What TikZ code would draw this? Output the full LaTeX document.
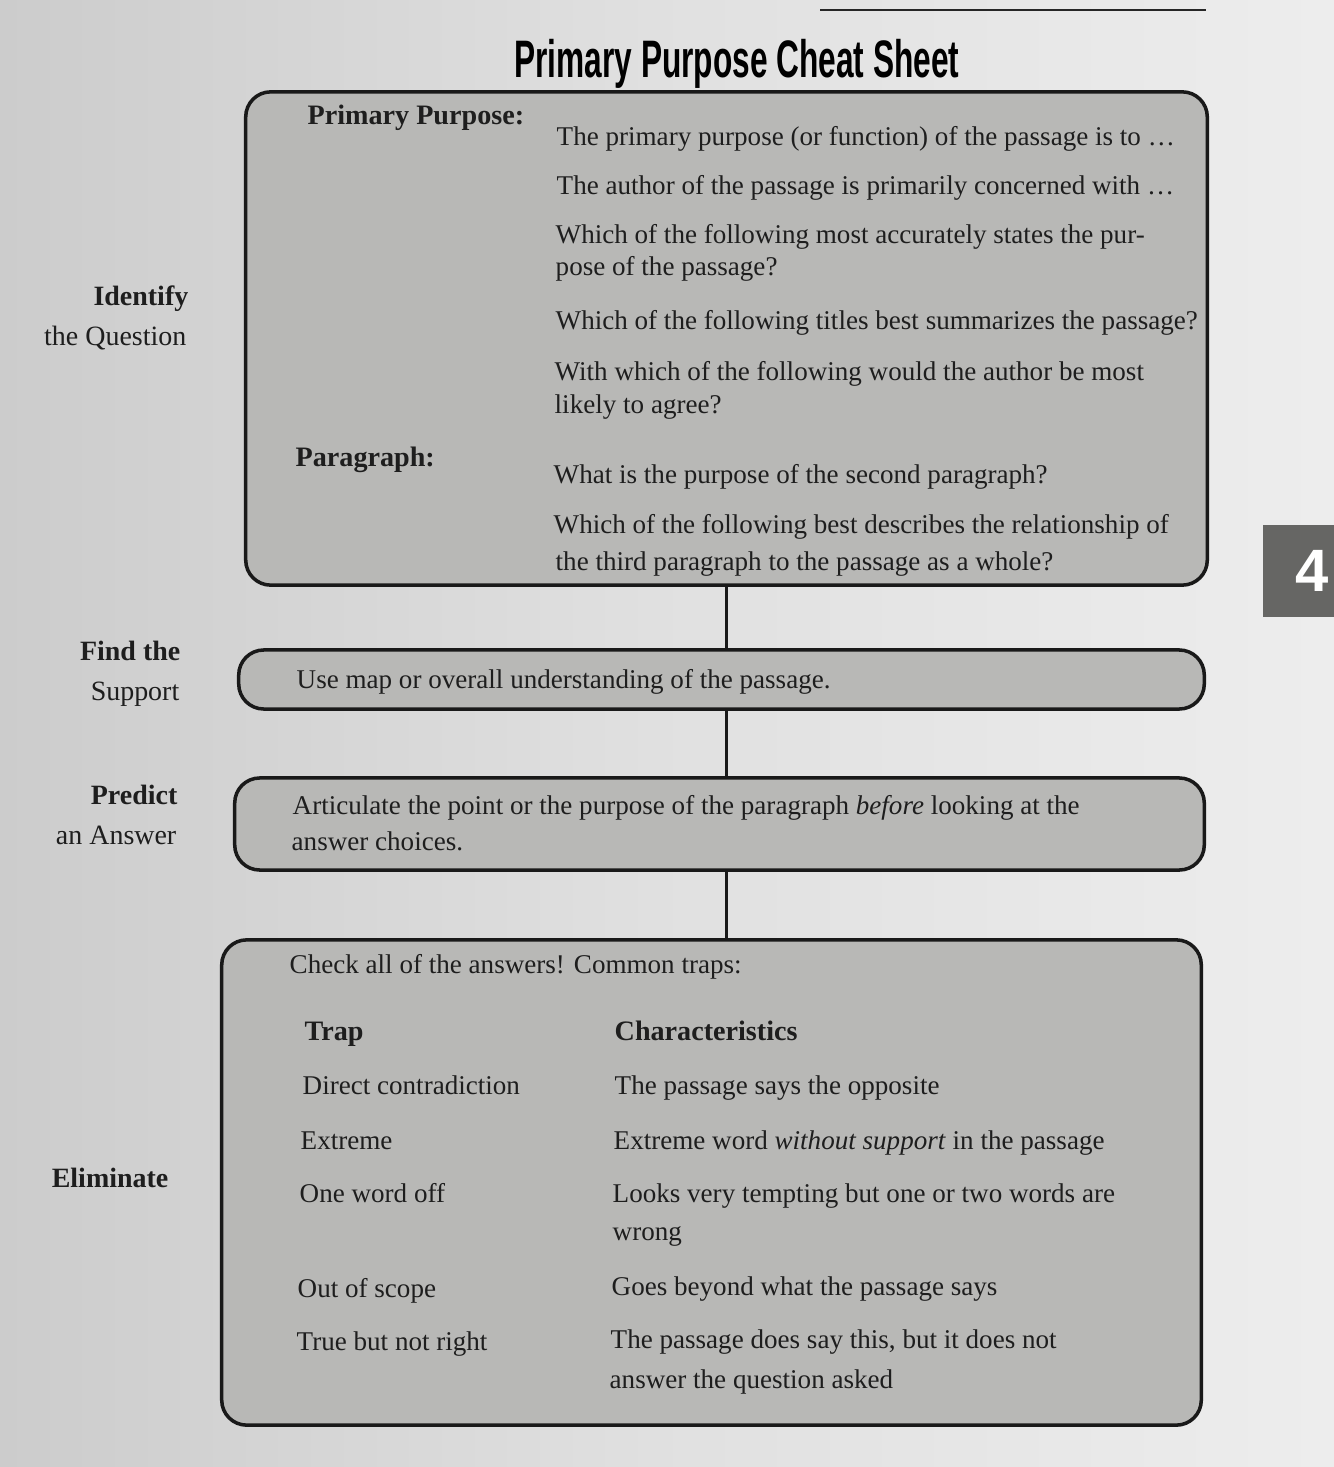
\documentclass[tikz,border=0pt]{standalone}
\usepackage{fontspec}
\setmainfont{Liberation Serif}
\newfontfamily\titlefont[FakeStretch=0.6]{Liberation Sans}
\newfontfamily\tabfont{Liberation Sans}
\definecolor{boxgray}{RGB}{184,184,182}
\definecolor{tabgray}{RGB}{102,102,100}
\definecolor{inkgray}{RGB}{30,30,30}
\begin{document}
\begin{tikzpicture}[
			x=0.01cm, y=-0.01cm,
			panel/.style={draw=black!90, line width=1pt, fill=boxgray, rounded corners=0.25cm, inner sep=0pt},
			txt/.style={anchor=base west, inner sep=0pt, text=inkgray, font=\fontsize{7.7}{9.3}\selectfont},
			hd/.style={txt, font=\fontsize{8}{9.6}\selectfont\bfseries},
			side/.style={anchor=base east, inner sep=0pt, text=inkgray, font=\fontsize{7.95}{9.5}\selectfont},
			sidehd/.style={side, font=\fontsize{7.95}{9.5}\selectfont\bfseries},
			link/.style={line width=1pt, draw=black!90}
			]
			\useasboundingbox (0,0) rectangle (1334,1467);
			\shade[left color=black!20, right color=black!7, middle color=black!12] (0,0) rectangle (1334,1467);
			\draw[line width=0.6pt, black!85] (820,10) -- (1206,10);
			
			\node[anchor=base, inner sep=0pt, text=black, font=\titlefont\bfseries\fontsize{15}{18}\selectfont] (title) at (737,78) {Primary Purpose Cheat Sheet};
			\node[fill=tabgray, minimum width=0.98cm, minimum height=0.92cm, inner sep=0pt, text=white, font=\tabfont\bfseries\fontsize{17}{20}\selectfont] (tab) at (1312,571) {4};
			
			\node[panel, minimum width=9.61cm, minimum height=4.93cm] (pp) at (726.5,338.5) {};
			\node[panel, minimum width=9.65cm, minimum height=0.59cm] (fs) at (721.5,679.5) {};
			\node[panel, minimum width=9.69cm, minimum height=0.92cm] (pa) at (719.5,824) {};
			\node[panel, minimum width=9.79cm, minimum height=4.85cm] (el) at (711.5,1182.5) {};
			
			\draw[link] (pp.south) -- (pp.south |- fs.north);
			\draw[link] (fs.south -| pp.south) -- (pa.north -| pp.south);
			\draw[link] (pa.south -| pp.south) -- (el.north -| pp.south);
			
			\node[sidehd] (id1) at (189,306) {Identify};
			\node[side] (id2) at (187,346) {the Question};
			\node[sidehd] (fs1) at (181,660) {Find the};
			\node[side] (fs2) at (180,700) {Support};
			\node[sidehd] (pa1) at (178,804) {Predict};
			\node[side] (pa2) at (177,844) {an Answer};
			\node[sidehd] (el1) at (169,1187) {Eliminate};
			
			\node[hd] (pplab) at (307,125) {Primary Purpose:};
			\node[txt] (q1) at (556,146) {The primary purpose (or function) of the passage is to \dots};
			\node[txt] (q2) at (556,195) {The author of the passage is primarily concerned with \dots};
			\node[txt] (q3) at (555,244) {Which of the following most accurately states the pur-};
			\node[txt] (q3b) at (555,276) {pose of the passage?};
			\node[txt] (q4) at (555,330) {Which of the following titles best summarizes the passage?};
			\node[txt] (q5) at (554,381) {With which of the following would the author be most};
			\node[txt] (q5b) at (554,413) {likely to agree?};
			\node[hd] (parlab) at (295,466) {Paragraph:};
			\node[txt] (q6) at (553,483) {What is the purpose of the second paragraph?};
			\node[txt] (q7) at (553,533) {Which of the following best describes the relationship of};
			\node[txt] (q7b) at (555,570) {the third paragraph to the passage as a whole?};
			
			\node[txt] (fstxt) at (296,688) {Use map or overall understanding of the passage.};
			\node[txt] (patxt) at (292,814) {Articulate the point or the purpose of the paragraph \emph{before} looking at the};
			\node[txt] (patxtb) at (291,850) {answer choices.};
			
			\node[txt] (eltxt) at (289,973) {Check all of the answers! Common traps:};
			\node[hd] (trap) at (304,1040) {Trap};
			\node[hd] (char) at (614,1040) {Characteristics};
			\node[txt] (t1) at (302,1094) {Direct contradiction};
			\node[txt] (c1) at (614,1094) {The passage says the opposite};
			\node[txt] (t2) at (300,1149) {Extreme};
			\node[txt] (c2) at (613,1149) {Extreme word \emph{without support} in the passage};
			\node[txt] (t3) at (299,1202) {One word off};
			\node[txt] (c3) at (612,1202) {Looks very tempting but one or two words are};
			\node[txt] (c3b) at (612,1240) {wrong};
			\node[txt] (t4) at (297,1297) {Out of scope};
			\node[txt] (c4) at (611,1295) {Goes beyond what the passage says};
			\node[txt] (t5) at (296,1350) {True but not right};
			\node[txt] (c5) at (610,1348) {The passage does say this, but it does not};
			\node[txt] (c5b) at (609,1388) {answer the question asked};
		\end{tikzpicture}
\end{document}
